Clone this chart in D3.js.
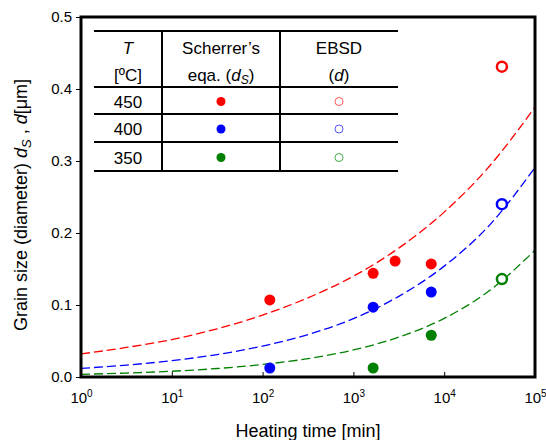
<!DOCTYPE html>
<html>
<head>
<meta charset="utf-8">
<script src="https://cdn.jsdelivr.net/npm/d3@7"></script>
<style>
  body { margin: 0; background: #fff; }
  svg { display: block; font-family: Arial, "Liberation Sans", sans-serif; }
</style>
</head>
<body>
<div id="chart"></div>
<script>
// Measured points (heating time in min, grain size in um)
const series = ["450", "400", "350"];
const colors = ["#ff0000", "#0000ff", "#008000"];
const lightColors = ["#ff5555", "#5555ff", "#44aa44"];

const scherrerTime = [
  [120, 1650, 2880, 7200],
  [120, 1650, 7200],
  [1650, 7200]
];
const scherrerSize = [
  [0.107, 0.144, 0.161, 0.157],
  [0.0125, 0.097, 0.118],
  [0.0125, 0.058]
];
const ebsdTime = [43200, 43200, 43200];
const ebsdSize = [0.431, 0.240, 0.136];

// dashed fit curves, read at half decades
const fitTime = [1, 3.16, 10, 31.6, 100, 316, 1000, 3160, 10000, 31600, 100000];
const fitSize = [
  [0.032, 0.041, 0.052, 0.067, 0.086, 0.110, 0.140, 0.179, 0.229, 0.293, 0.375],
  [0.012, 0.0165, 0.0227, 0.0312, 0.043, 0.059, 0.081, 0.112, 0.154, 0.211, 0.291],
  [0.0037, 0.0055, 0.008, 0.0118, 0.0174, 0.0255, 0.0376, 0.0553, 0.0814, 0.120, 0.176]
];

const yTicks = [0, 0.1, 0.2, 0.3, 0.4, 0.5];
const xTicks = [1, 10, 100, 1000, 10000, 100000];

const W = 546, H = 440;
const plot = { left: 81, right: 535, top: 17, bottom: 377 };

const svg = d3.select("#chart").append("svg")
    .attr("width", W)
    .attr("height", H);

const x = d3.scaleLog().domain([1, 1e5]).range([plot.left, plot.right]);
const y = d3.scaleLinear().domain([0, 0.5]).range([plot.bottom, plot.top]);

svg.append("clipPath").attr("id", "clip")
  .append("rect")
    .attr("x", plot.left).attr("y", plot.top)
    .attr("width", plot.right - plot.left).attr("height", plot.bottom - plot.top);

// y axis
const yAxis = svg.append("g")
    .attr("transform", `translate(${plot.left - 1},0)`)
    .call(d3.axisLeft(y).tickValues(yTicks).tickSize(4).tickPadding(4).tickFormat(d3.format(".1f")));
yAxis.select(".domain").remove();
yAxis.selectAll("text").style("font-size", "15px").attr("fill", "#000");

// x axis (ticks pointing inward)
const xAxis = svg.append("g")
    .attr("transform", `translate(0,${plot.bottom})`)
    .call(d3.axisBottom(x).tickValues(xTicks).tickSizeInner(-5).tickSizeOuter(0).tickFormat(""));
xAxis.select(".domain").remove();
xAxis.selectAll(".tick").each(function(d) {
  const t = d3.select(this).append("text")
      .attr("y", 26)
      .attr("text-anchor", "middle")
      .attr("fill", "#000")
      .style("font-size", "15px");
  t.append("tspan").text("10");
  t.append("tspan").attr("dy", -6).style("font-size", "10px").text(Math.round(Math.log10(d)));
});

// fit curves
const line = d3.line()
    .x((d, i) => x(fitTime[i]))
    .y(d => y(d))
    .curve(d3.curveMonotoneX);

svg.append("g").attr("clip-path", "url(#clip)")
  .selectAll("path")
  .data(fitSize)
  .enter().append("path")
    .attr("d", line)
    .attr("fill", "none")
    .attr("stroke", (d, i) => colors[i])
    .attr("stroke-width", 1.3)
    .attr("stroke-dasharray", "9,4");

// Scherrer points
series.forEach((s, i) => {
  svg.append("g").selectAll("circle")
    .data(scherrerSize[i])
    .enter().append("circle")
      .attr("cx", (d, j) => x(scherrerTime[i][j]))
      .attr("cy", d => y(d))
      .attr("r", 5.5)
      .attr("fill", colors[i]);
});

// EBSD points
svg.append("g").selectAll("circle")
  .data(ebsdSize)
  .enter().append("circle")
    .attr("cx", (d, i) => x(ebsdTime[i]))
    .attr("cy", d => y(d))
    .attr("r", 5)
    .attr("fill", "#fff")
    .attr("stroke", (d, i) => colors[i])
    .attr("stroke-width", 2.5);

// frame
svg.append("rect")
    .attr("x", plot.left).attr("y", plot.top)
    .attr("width", plot.right - plot.left).attr("height", plot.bottom - plot.top)
    .attr("fill", "none")
    .attr("stroke", "#000")
    .attr("stroke-width", 3);

// legend table
const tbl = { left: 94, right: 398, col1: 162, col2: 280, rows: [31, 87, 114, 142, 171] };
const tg = svg.append("g");
tbl.rows.forEach(r => {
  tg.append("line").attr("x1", tbl.left).attr("x2", tbl.right).attr("y1", r).attr("y2", r)
    .attr("stroke", "#000").attr("stroke-width", 2);
});
[tbl.col1, tbl.col2].forEach(c => {
  tg.append("line").attr("x1", c).attr("x2", c).attr("y1", tbl.rows[0]).attr("y2", tbl.rows[4])
    .attr("stroke", "#000").attr("stroke-width", 2);
});

const c1 = (tbl.left + tbl.col1) / 2, c2 = (tbl.col1 + tbl.col2) / 2, c3 = (tbl.col2 + tbl.right) / 2;
const hText = (xx, yy) => tg.append("text").attr("x", xx).attr("y", yy)
    .attr("text-anchor", "middle").style("font-size", "17px").attr("fill", "#000");

hText(c1, 54).append("tspan").style("font-style", "italic").text("T");
hText(c1, 81).text("[ºC]");
hText(c2, 54).text("Scherrer’s");
const eq = hText(c2, 81);
eq.append("tspan").text("eqa. (");
eq.append("tspan").style("font-style", "italic").text("d");
eq.append("tspan").style("font-style", "italic").style("font-size", "12px").attr("dy", 3).text("S");
eq.append("tspan").attr("dy", -3).text(")");
hText(c3, 54).text("EBSD");
const dd = hText(c3, 81);
dd.append("tspan").text("(");
dd.append("tspan").style("font-style", "italic").text("d");
dd.append("tspan").text(")");

series.forEach((s, i) => {
  const cy = (tbl.rows[i + 1] + tbl.rows[i + 2]) / 2;
  hText(c1, cy + 7).text(s);
  tg.append("circle").attr("cx", c2).attr("cy", cy + 1).attr("r", 4.5).attr("fill", colors[i]);
  tg.append("circle").attr("cx", c3).attr("cy", cy + 1).attr("r", 4)
    .attr("fill", "#fff").attr("stroke", lightColors[i]).attr("stroke-width", 1);
});

// axis titles
svg.append("text")
    .attr("x", (plot.left + plot.right) / 2)
    .attr("y", 437)
    .attr("text-anchor", "middle")
    .style("font-size", "18px")
    .text("Heating time [min]");

const yl = svg.append("text")
    .attr("transform", `translate(27,${(plot.top + plot.bottom) / 2 + 8}) rotate(-90)`)
    .attr("text-anchor", "middle")
    .style("font-size", "18px");
yl.append("tspan").text("Grain size (diameter) ");
yl.append("tspan").style("font-style", "italic").text("d");
yl.append("tspan").style("font-style", "italic").style("font-size", "13px").attr("dy", 4).text("S");
yl.append("tspan").attr("dy", -4).text(" , ");
yl.append("tspan").style("font-style", "italic").text("d");
yl.append("tspan").text("[μm]");
</script>
</body>
</html>
